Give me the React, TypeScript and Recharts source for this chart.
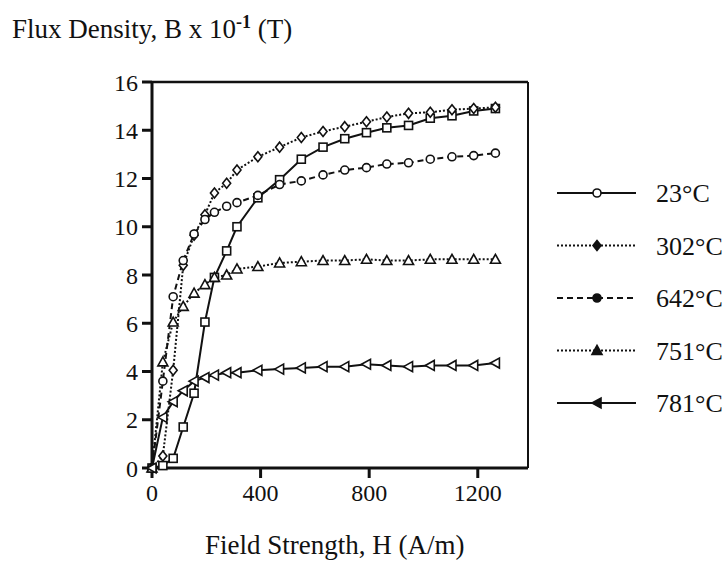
import { Line, LineChart, ReferenceLine, XAxis, YAxis } from "recharts";

// field strength H (A/m), shared by all curves
const fieldH = [
  0, 40, 78, 115, 155, 195, 230, 275, 313, 390, 470, 550, 630, 710, 790, 865,
  945, 1025, 1105, 1185, 1265,
];

// flux density B x 10^-1 (T)
const b23 = [
  0, 0.1, 0.4, 1.7, 3.1, 6.05, 7.9, 9.0, 10.0, 11.2, 11.95, 12.8, 13.3, 13.65,
  13.9, 14.1, 14.2, 14.5, 14.6, 14.8, 14.9,
];
const b302 = [
  0, 0.5, 4.05, 8.4, 9.65, 10.5, 11.4, 11.8, 12.35, 12.9, 13.3, 13.7, 13.95,
  14.15, 14.35, 14.55, 14.7, 14.75, 14.85, 14.9, 14.95,
];
const b642 = [
  0, 3.6, 7.1, 8.6, 9.7, 10.3, 10.6, 10.85, 11.0, 11.3, 11.75, 11.9, 12.15,
  12.35, 12.45, 12.6, 12.65, 12.8, 12.9, 12.95, 13.05,
];
const b751 = [
  0, 4.4, 6.05, 6.7, 7.25, 7.6, 7.9, 8.0, 8.25, 8.35, 8.5, 8.55, 8.6, 8.6,
  8.65, 8.6, 8.6, 8.65, 8.65, 8.65, 8.65,
];
const b781 = [
  0, 2.1, 2.75, 3.2, 3.6, 3.75, 3.85, 3.95, 3.95, 4.05, 4.1, 4.15, 4.2, 4.2,
  4.3, 4.25, 4.2, 4.25, 4.25, 4.25, 4.35,
];

const xTicks = [0, 400, 800, 1200];
const yTicks = [0, 2, 4, 6, 8, 10, 12, 14, 16];
const X_MAX = 1385;

const data = fieldH.map((h, i) => ({
  h,
  t23: b23[i],
  t302: b302[i],
  t642: b642[i],
  t751: b751[i],
  t781: b781[i],
}));

const FONT = '"Liberation Serif", "DejaVu Serif", serif';

type Shape = "square" | "diamond" | "circle" | "triangle" | "left";

const Marker = ({
  shape,
  cx,
  cy,
  filled = false,
}: {
  shape: Shape;
  cx: number;
  cy: number;
  filled?: boolean;
}) => {
  const fill = filled ? "#111" : "#fff";
  const common = { fill, stroke: "#111", strokeWidth: 1.6 };
  if (shape === "square")
    return <rect x={cx - 4} y={cy - 4} width={8} height={8} {...common} />;
  if (shape === "circle") return <circle cx={cx} cy={cy} r={4} {...common} />;
  if (shape === "diamond")
    return (
      <polygon
        points={`${cx},${cy - 5} ${cx + 4},${cy} ${cx},${cy + 5} ${cx - 4},${cy}`}
        {...common}
      />
    );
  if (shape === "triangle")
    return (
      <polygon
        points={`${cx},${cy - 5} ${cx + 5},${cy + 4} ${cx - 5},${cy + 4}`}
        {...common}
      />
    );
  return (
    <polygon
      points={`${cx - 5},${cy} ${cx + 4},${cy - 5} ${cx + 4},${cy + 5}`}
      {...common}
    />
  );
};

const series = [
  { key: "t23", name: "23°C", dash: undefined, shape: "square" as Shape, legendShape: "circle" as Shape, legendFill: false },
  { key: "t302", name: "302°C", dash: "2 2", shape: "diamond" as Shape, legendShape: "diamond" as Shape, legendFill: true },
  { key: "t642", name: "642°C", dash: "6 4", shape: "circle" as Shape, legendShape: "circle" as Shape, legendFill: true },
  { key: "t751", name: "751°C", dash: "2 2", shape: "triangle" as Shape, legendShape: "triangle" as Shape, legendFill: true },
  { key: "t781", name: "781°C", dash: undefined, shape: "left" as Shape, legendShape: "left" as Shape, legendFill: true },
];

const ChartLegend = () => (
  <svg
    width={180}
    height={270}
    style={{ position: "absolute", left: 548, top: 170 }}
  >
    {series.map((s, i) => {
      const y = 23 + i * 52.5;
      return (
        <g key={s.key}>
          <line
            x1={9}
            x2={88}
            y1={y}
            y2={y}
            stroke="#111"
            strokeWidth={2}
            strokeDasharray={s.dash}
          />
          <Marker shape={s.legendShape} cx={49} cy={y} filled={s.legendFill} />
          <text x={108} y={y + 9} fontFamily={FONT} fontSize={26} fill="#111">
            {s.name}
          </text>
        </g>
      );
    })}
  </svg>
);

const App = () => {
  return (
    <div
      style={{
        position: "absolute",
        left: 0,
        top: 0,
        width: 728,
        height: 576,
        background: "#fff",
        fontFamily: FONT,
        color: "#111",
      }}
    >
      <div
        style={{
          position: "absolute",
          left: 12,
          top: 12,
          fontSize: 27,
          whiteSpace: "nowrap",
        }}
      >
        Flux Density, B x 10
        <sup style={{ fontSize: 18, fontWeight: "bold" }}>-1</sup> (T)
      </div>
      <LineChart
        width={728}
        height={576}
        data={data}
        margin={{ top: 82, right: 200, left: 112, bottom: 78 }}
      >
        <XAxis
          dataKey="h"
          type="number"
          domain={[0, X_MAX]}
          ticks={xTicks}
          interval={0}
          tickSize={10}
          tickMargin={6}
          height={30}
          axisLine={{ stroke: "#111", strokeWidth: 3 }}
          tickLine={{ stroke: "#111", strokeWidth: 3 }}
          tick={{ fill: "#111", fontSize: 24, fontFamily: FONT }}
        />
        <YAxis
          type="number"
          domain={[0, 16]}
          ticks={yTicks}
          interval={0}
          width={40}
          tickSize={10}
          tickMargin={4}
          axisLine={{ stroke: "#111", strokeWidth: 3 }}
          tickLine={{ stroke: "#111", strokeWidth: 3 }}
          tick={{ fill: "#111", fontSize: 24, fontFamily: FONT }}
        />
        <ReferenceLine y={16} stroke="#111" strokeWidth={2.5} />
        <ReferenceLine x={X_MAX} stroke="#111" strokeWidth={2} />
        {series.map((s) => (
          <Line
            key={s.key}
            dataKey={s.key}
            name={s.name}
            type="linear"
            stroke="#111"
            strokeWidth={2}
            strokeDasharray={s.dash}
            isAnimationActive={false}
            dot={(p: any) => (
              <Marker
                key={`${s.key}-${p.index}`}
                shape={s.shape}
                cx={p.cx}
                cy={p.cy}
              />
            )}
          />
        ))}
      </LineChart>
      <ChartLegend />
      <div
        style={{
          position: "absolute",
          left: 205,
          top: 530,
          fontSize: 27,
          whiteSpace: "nowrap",
        }}
      >
        Field Strength, H (A/m)
      </div>
    </div>
  );
};

export default App;
